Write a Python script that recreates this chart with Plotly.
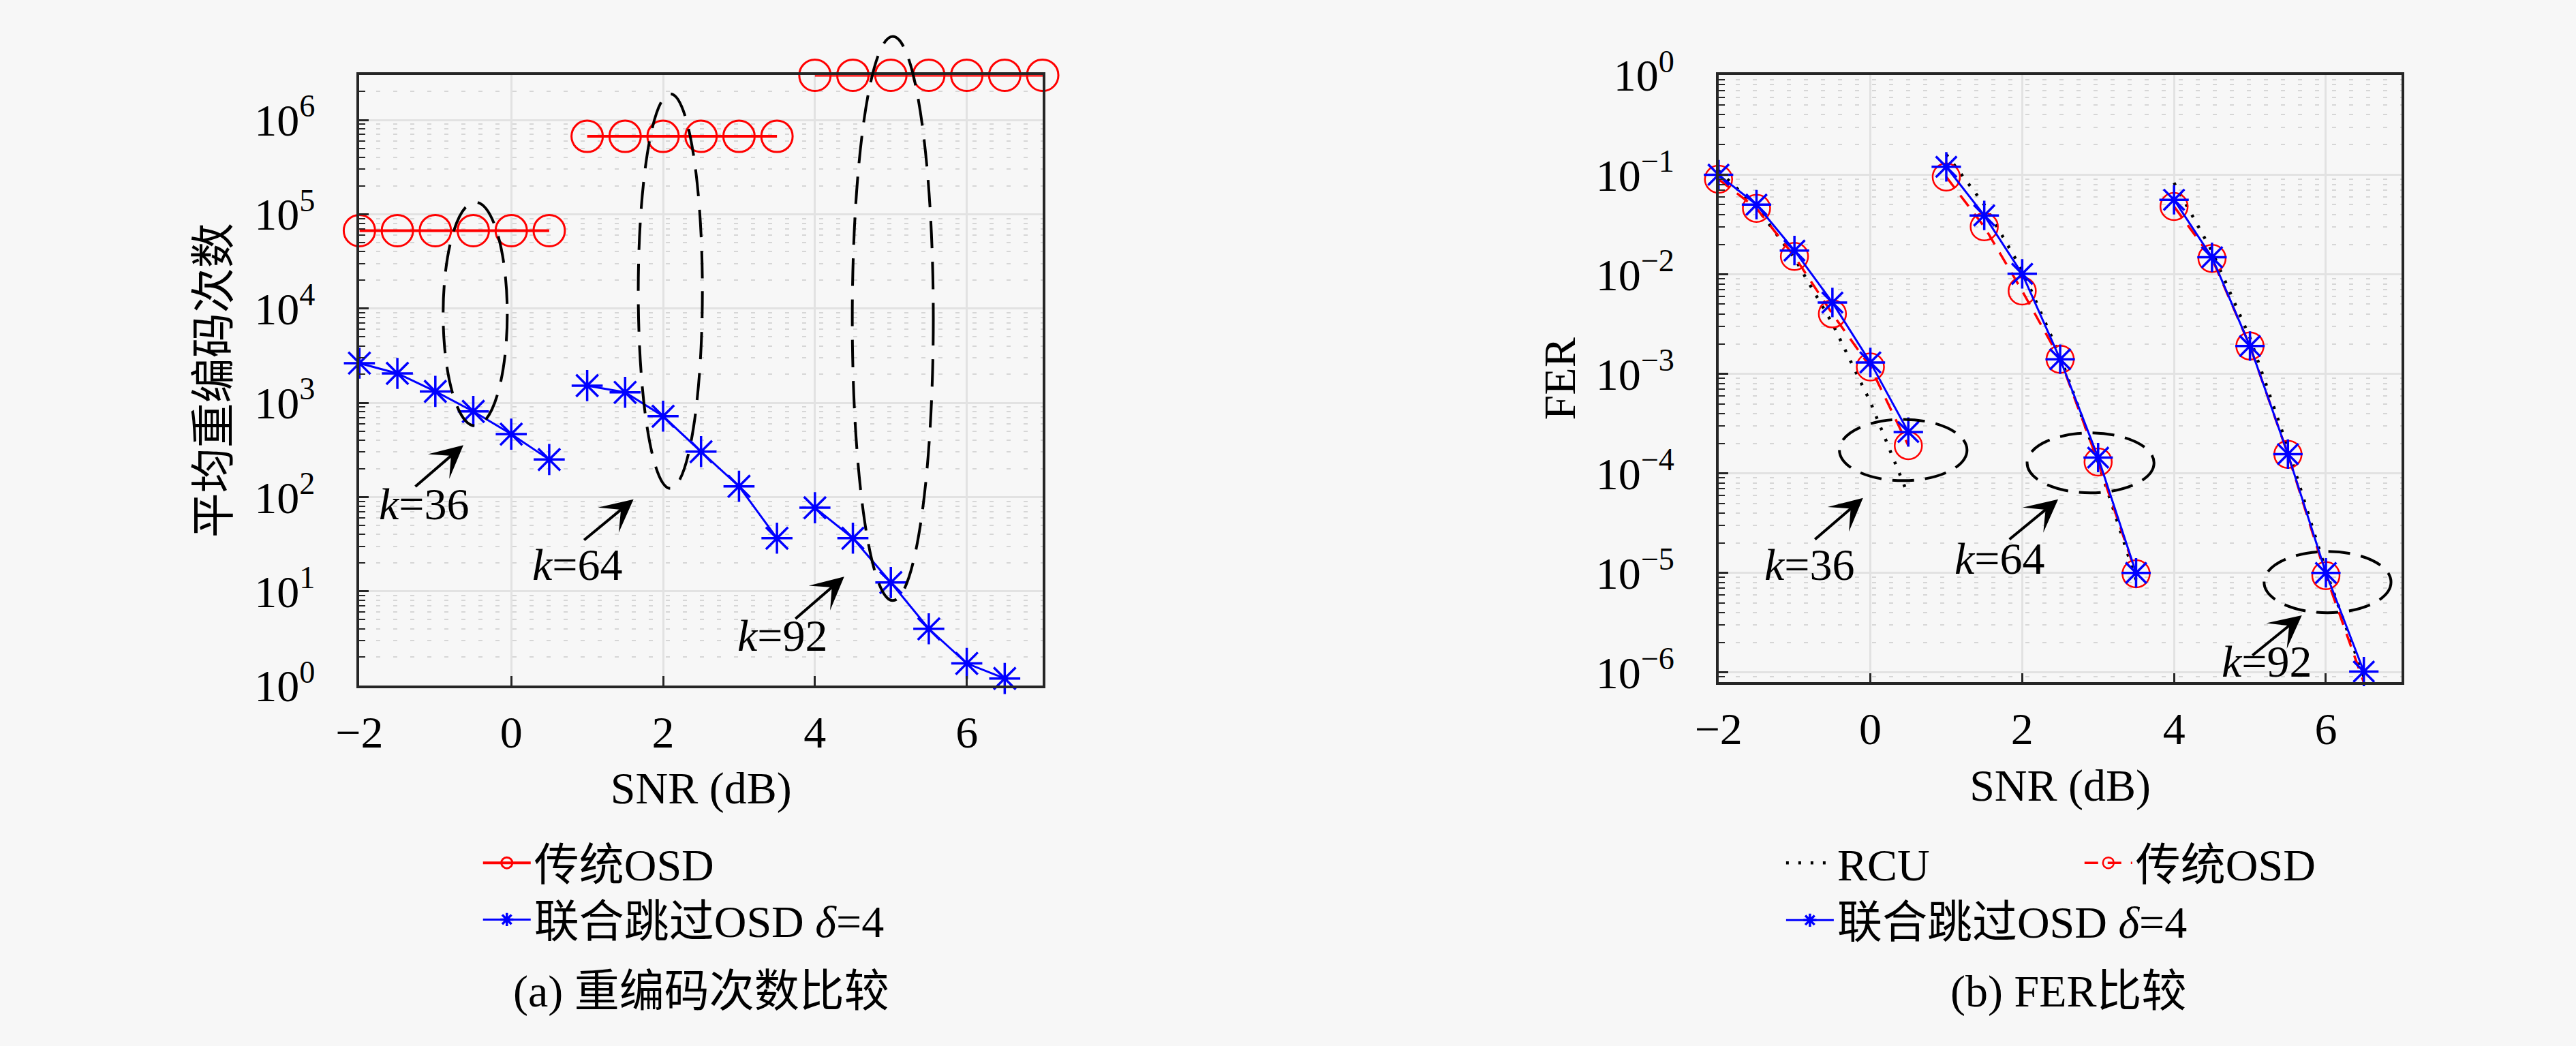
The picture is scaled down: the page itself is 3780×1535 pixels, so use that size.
import plotly.graph_objects as go

# ---------------- data ----------------
# (a) average number of re-encodings
snr_k36 = [-2, -1.5, -1, -0.5, 0, 0.5]
snr_k64 = [1, 1.5, 2, 2.5, 3, 3.5]
snr_k92_osd = [4, 4.5, 5, 5.5, 6, 6.5, 7]
snr_k92 = [4, 4.5, 5, 5.5, 6, 6.5]

reenc_osd_k36 = [6.7e4, 6.7e4, 6.7e4, 6.7e4, 6.7e4, 6.7e4]
reenc_osd_k64 = [6.7e5, 6.7e5, 6.7e5, 6.7e5, 6.7e5, 6.7e5]
reenc_osd_k92 = [2.98e6, 2.98e6, 2.98e6, 2.98e6, 2.98e6, 2.98e6, 2.98e6]

reenc_skip_k36 = [2630, 2050, 1320, 810, 465, 250]
reenc_skip_k64 = [1520, 1290, 720, 303, 130, 36.6]
reenc_skip_k92 = [77, 36.6, 12.4, 4.0, 1.72, 1.19]

# (b) FER
fer_rcu_k36 = [0.11, 0.047, 0.0145, 0.0032, 5.2e-4, 6e-5]
fer_osd_k36 = [0.09, 0.046, 0.0151, 0.004, 0.00117, 1.9e-4]
fer_skip_k36 = [0.1, 0.05, 0.0173, 0.0052, 0.0013, 2.6e-4]

fer_rcu_k64 = [0.16, 0.05, 0.011, 0.0015, 1.3e-4, 8.5e-6]
fer_osd_k64 = [0.095, 0.030, 0.0068, 0.0014, 1.3e-4, 9.8e-6]
fer_skip_k64 = [0.12, 0.039, 0.0101, 0.0014, 1.44e-4, 1.0e-5]

fer_rcu_k92 = [0.083, 0.017, 0.0023, 1.8e-4, 1.05e-5, 9e-7]
fer_osd_k92 = [0.048, 0.0144, 0.0019, 1.55e-4, 9.4e-6, 7.9e-7]
fer_skip_k92 = [0.056, 0.0148, 0.0019, 1.56e-4, 1.0e-5, 1.02e-6]

# tick labels
reenc_tickvals = [1, 10, 100, 1e3, 1e4, 1e5, 1e6]
reenc_ticktext = ["10<sup>0</sup>", "10<sup>1</sup>", "10<sup>2</sup>", "10<sup>3</sup>",
                  "10<sup>4</sup>", "10<sup>5</sup>", "10<sup>6</sup>"]
fer_tickvals = [1e-6, 1e-5, 1e-4, 1e-3, 1e-2, 1e-1, 1]
fer_ticktext = ["10<sup>\u22126</sup>", "10<sup>\u22125</sup>", "10<sup>\u22124</sup>",
                "10<sup>\u22123</sup>", "10<sup>\u22122</sup>", "10<sup>\u22121</sup>",
                "10<sup>0</sup>"]

name_rcu = "RCU"
name_osd = "传统OSD"
name_skip = "联合跳过OSD <i>δ</i>=4"
k_labels = ["<i>k</i>=36", "<i>k</i>=64", "<i>k</i>=92"]
caption_a = "(a) 重编码次数比较"
caption_b = "(b) FER比较"

# ---------------- style ----------------
W, H = 3780, 1535
FONT = "Liberation Serif, Noto Sans CJK SC, serif"
FS = 66
RED = "#ff0000"
BLUE = "#0000ff"
BG = "#f7f7f7"
AXC = "#262626"

def px(x):
    return x / W

def py(y):
    return 1 - y / H

fig = go.Figure()

# ---- panel (a) ----
osd_sets_a = [(snr_k36, reenc_osd_k36), (snr_k64, reenc_osd_k64), (snr_k92_osd, reenc_osd_k92)]
skip_sets_a = [(snr_k36, reenc_skip_k36), (snr_k64, reenc_skip_k64), (snr_k92, reenc_skip_k92)]
for i, (xs, ys) in enumerate(osd_sets_a):
    fig.add_trace(go.Scatter(
        x=xs, y=ys, mode="lines+markers", name=name_osd,
        line=dict(color=RED, width=4),
        marker=dict(symbol="circle-open", size=46, color=RED, line=dict(width=3, color=RED)),
        cliponaxis=False, showlegend=(i == 0), legend="legend",
        xaxis="x", yaxis="y"))
for i, (xs, ys) in enumerate(skip_sets_a):
    fig.add_trace(go.Scatter(
        x=xs, y=ys, mode="lines+markers", name=name_skip,
        line=dict(color=BLUE, width=3),
        marker=dict(symbol="asterisk-open", size=38, color=BLUE, line=dict(width=3.5, color=BLUE)),
        cliponaxis=False, showlegend=(i == 0), legend="legend2",
        xaxis="x", yaxis="y"))

# ---- panel (b) ----
rcu_sets = [(snr_k36, fer_rcu_k36), (snr_k64, fer_rcu_k64), (snr_k92, fer_rcu_k92)]
osd_sets_b = [(snr_k36, fer_osd_k36), (snr_k64, fer_osd_k64), (snr_k92, fer_osd_k92)]
skip_sets_b = [(snr_k36, fer_skip_k36), (snr_k64, fer_skip_k64), (snr_k92, fer_skip_k92)]
for i, (xs, ys) in enumerate(rcu_sets):
    fig.add_trace(go.Scatter(
        x=xs, y=ys, mode="lines", name=name_rcu,
        line=dict(color="black", width=4.5, dash="4px,14px"),
        showlegend=(i == 0), legend="legend3", xaxis="x2", yaxis="y2"))
for i, (xs, ys) in enumerate(osd_sets_b):
    fig.add_trace(go.Scatter(
        x=xs, y=ys, mode="lines+markers", name=name_osd,
        line=dict(color=RED, width=3.5, dash="20px,14px"),
        marker=dict(symbol="circle-open", size=40, color=RED, line=dict(width=2.5, color=RED)),
        cliponaxis=False, showlegend=(i == 0), legend="legend4",
        xaxis="x2", yaxis="y2"))
for i, (xs, ys) in enumerate(skip_sets_b):
    fig.add_trace(go.Scatter(
        x=xs, y=ys, mode="lines+markers", name=name_skip,
        line=dict(color=BLUE, width=3),
        marker=dict(symbol="asterisk-open", size=36, color=BLUE, line=dict(width=3.5, color=BLUE)),
        cliponaxis=False, showlegend=(i == 0), legend="legend5",
        xaxis="x2", yaxis="y2"))

tickfont = dict(family=FONT, size=FS, color="black")
common_x = dict(range=[-2, 7], dtick=2, tick0=0, showgrid=True, gridcolor="#e2e2e2", gridwidth=3,
                zeroline=False, showline=True, linecolor=AXC, linewidth=3.5, mirror=True,
                ticks="inside", ticklen=14, tickwidth=3, tickcolor=AXC, tickfont=tickfont,
                ticklabelstandoff=8,
                title=dict(text="SNR (dB)", font=tickfont, standoff=24))
minor_y = dict(ticks="inside", ticklen=9, tickwidth=2, tickcolor=AXC, dtick="D1",
               showgrid=True, gridcolor="#d6d6d6", gridwidth=2, griddash="6px,19px")
common_y = dict(type="log", showgrid=True, gridcolor="#e2e2e2", gridwidth=3, zeroline=False,
                showline=True, linecolor=AXC, linewidth=3.5, mirror=True,
                ticks="inside", ticklen=14, tickwidth=3, tickcolor=AXC, tickfont=tickfont,
                ticklabelstandoff=48, minor=minor_y)

fig.update_layout(
    width=W, height=H, autosize=False,
    margin=dict(l=0, r=0, t=0, b=0),
    paper_bgcolor=BG, plot_bgcolor=BG,
    font=dict(family=FONT, size=FS, color="black"),
    xaxis=dict(domain=[px(497), px(1509)], anchor="y", **common_x),
    yaxis=dict(domain=[py(1015), py(68)], anchor="x", range=[0, 6.475],
               tickmode="array", tickvals=reenc_tickvals, ticktext=reenc_ticktext,
               title=dict(text="平均重编码次数", font=tickfont, standoff=16), **common_y),
    xaxis2=dict(domain=[px(2510), px(3522)], anchor="y2", **common_x),
    yaxis2=dict(domain=[py(1010), py(68)], anchor="x2", range=[-6.1, 0],
                tickmode="array", tickvals=fer_tickvals, ticktext=fer_ticktext,
                title=dict(text="FER", font=tickfont, standoff=10), **common_y),
)

leg_common = dict(xanchor="left", yanchor="middle", bgcolor="rgba(0,0,0,0)",
                  font=dict(family=FONT, size=FS, color="black"), itemwidth=70,
                  borderwidth=0)
fig.update_layout(
    legend=dict(x=px(675), y=py(1290), **leg_common),
    legend2=dict(x=px(675), y=py(1378), **leg_common),
    legend3=dict(x=px(2605), y=py(1290), **leg_common),
    legend4=dict(x=px(3047), y=py(1290), **leg_common),
    legend5=dict(x=px(2605), y=py(1379), **leg_common),
)

# ---- dashed ellipses (annotation marks, in figure pixels) ----
ellipses = [
    (621, 716, 265, 612, "40px,20px"),
    (910, 1005, 97, 709, "40px,20px"),
    (1227, 1347, 8, 883, "40px,20px"),
    (2689, 2878, 602, 697, "32px,16px"),
    (2967, 3155, 623, 716, "32px,16px"),
    (3318, 3506, 807, 902, "32px,16px"),
]
for x0, x1, y0, y1, d in ellipses:
    fig.add_shape(type="circle", xref="paper", yref="paper",
                  x0=px(x0), x1=px(x1), y0=py(y1), y1=py(y0),
                  line=dict(color="black", width=4, dash=d), layer="above")

# ---- arrows (head, tail) ----
arrows = [
    ((651, 642), (579, 704)),
    ((903, 726), (829, 787)),
    ((1215, 846), (1142, 909)),
    ((2724, 724), (2652, 786)),
    ((3013, 726), (2940, 786)),
    ((3374, 906), (3300, 966)),
]
for (hx, hy), (tx, ty) in arrows:
    fig.add_annotation(xref="paper", yref="paper", x=px(hx), y=py(hy),
                       ax=tx - hx, ay=ty - hy, axref="pixel", ayref="pixel",
                       text="", showarrow=True, arrowhead=3, arrowsize=2,
                       arrowwidth=4, arrowcolor="black", standoff=0, startstandoff=0)

k_pos = [(593, 733), (820, 827), (1124, 937), (2645, 827), (2927, 818), (3322, 977)]
for i, (x, y) in enumerate(k_pos):
    fig.add_annotation(xref="paper", yref="paper", x=px(x), y=py(y),
                       text=k_labels[i % 3], showarrow=False,
                       xanchor="center", yanchor="middle",
                       font=dict(family=FONT, size=FS, color="black"))

fig.add_annotation(xref="paper", yref="paper", x=px(1003), y=py(1490), text=caption_a,
                   showarrow=False, xanchor="center", yanchor="middle",
                   font=dict(family=FONT, size=FS, color="black"))
fig.add_annotation(xref="paper", yref="paper", x=px(3029), y=py(1490), text=caption_b,
                   showarrow=False, xanchor="center", yanchor="middle",
                   font=dict(family=FONT, size=FS, color="black"))

fig.write_html("out.html", config={"displayModeBar": False},
               post_script="document.body.style.margin='0';document.body.style.overflow='hidden';")
